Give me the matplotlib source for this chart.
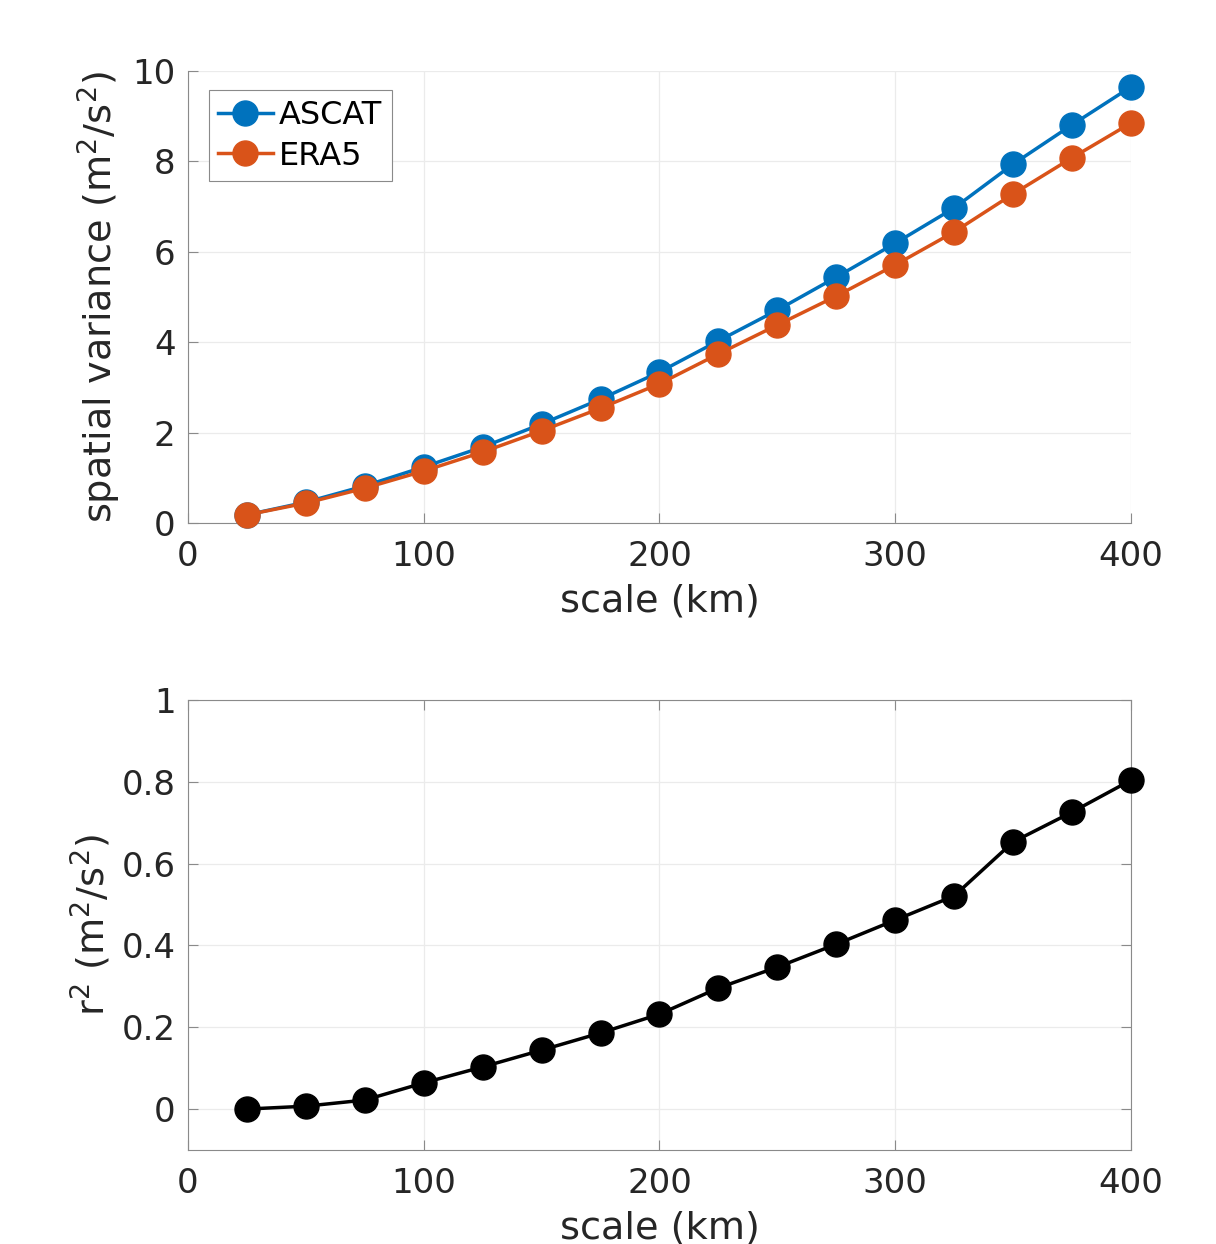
"""Spatial variance and r^2 of wind fields against averaging scale."""
import matplotlib
matplotlib.use("Agg")
import matplotlib.pyplot as plt

scale_km = [25, 50, 75, 100, 125, 150, 175, 200, 225, 250, 275, 300, 325, 350, 375, 400]
ascat_var = [0.18, 0.46, 0.82, 1.24, 1.68, 2.19, 2.74, 3.34, 4.03, 4.71, 5.44, 6.19, 6.97, 7.94, 8.81, 9.65]
era5_var = [0.18, 0.44, 0.77, 1.15, 1.57, 2.04, 2.54, 3.08, 3.74, 4.38, 5.02, 5.71, 6.44, 7.28, 8.08, 8.85]
r2 = [0.0, 0.007, 0.022, 0.064, 0.103, 0.144, 0.186, 0.232, 0.296, 0.347, 0.403,
      0.462, 0.521, 0.653, 0.726, 0.804]

BLUE = "#0072BD"
ORANGE = "#D95319"
TXT = "#262626"
SPINE = "#8a8a8a"
GRID = "#ebebeb"

plt.rcParams["font.family"] = "DejaVu Sans"
plt.rcParams["mathtext.fontset"] = "dejavusans"

fig = plt.figure(figsize=(12.16, 12.44), dpi=100)
ax1 = fig.add_axes([0.1546, 0.5796, 0.7755, 0.3633])
ax2 = fig.add_axes([0.1546, 0.0756, 0.7755, 0.3617])


def style_axes(ax, box):
    ax.set_xlim(0, 400)
    ax.set_xticks([0, 100, 200, 300, 400])
    ax.grid(True, color=GRID, linewidth=0.9)
    ax.set_axisbelow(True)
    ax.tick_params(direction="in", length=7, width=0.8, color=SPINE,
                   labelsize=24.5, labelcolor=TXT, top=box, right=box)
    ax.tick_params(axis="x", pad=12)
    ax.tick_params(axis="y", pad=9)
    for side, sp in ax.spines.items():
        sp.set_color(SPINE)
        sp.set_linewidth(0.8)
        if side in ("top", "right"):
            sp.set_visible(box)


style_axes(ax1, box=False)
ax1.plot(scale_km, ascat_var, "-o", color=BLUE, lw=2.5, ms=18, label="ASCAT", clip_on=False, zorder=3)
ax1.plot(scale_km, era5_var, "-o", color=ORANGE, lw=2.5, ms=18, label="ERA5", clip_on=False, zorder=4)
ax1.set_ylim(0, 10)
ax1.set_yticks([0, 2, 4, 6, 8, 10])
ax1.set_xlabel("scale (km)", fontsize=27.5, color=TXT, labelpad=8)
ax1.set_ylabel("spatial variance (m$^2$/s$^2$)", fontsize=27.5, color=TXT, labelpad=7)
leg = ax1.legend(loc="upper left", bbox_to_anchor=(0.022, 0.957), fontsize=23,
                 handlelength=1.7, handletextpad=0.2, borderpad=0.3,
                 labelspacing=0.3, fancybox=False, framealpha=1, borderaxespad=0)
leg.get_frame().set_edgecolor("#8a8a8a")
leg.get_frame().set_linewidth(0.8)

style_axes(ax2, box=True)
ax2.plot(scale_km, r2, "-o", color="black", lw=2.5, ms=18, clip_on=False, zorder=3)
ax2.set_ylim(-0.1, 1)
ax2.set_yticks([0, 0.2, 0.4, 0.6, 0.8, 1])
ax2.set_yticklabels(["0", "0.2", "0.4", "0.6", "0.8", "1"])
ax2.set_xlabel("scale (km)", fontsize=27.5, color=TXT, labelpad=8)
ax2.set_ylabel("r$^2$ (m$^2$/s$^2$)", fontsize=27.5, color=TXT, labelpad=6)

fig.savefig("out.png", dpi=100, facecolor="white")
